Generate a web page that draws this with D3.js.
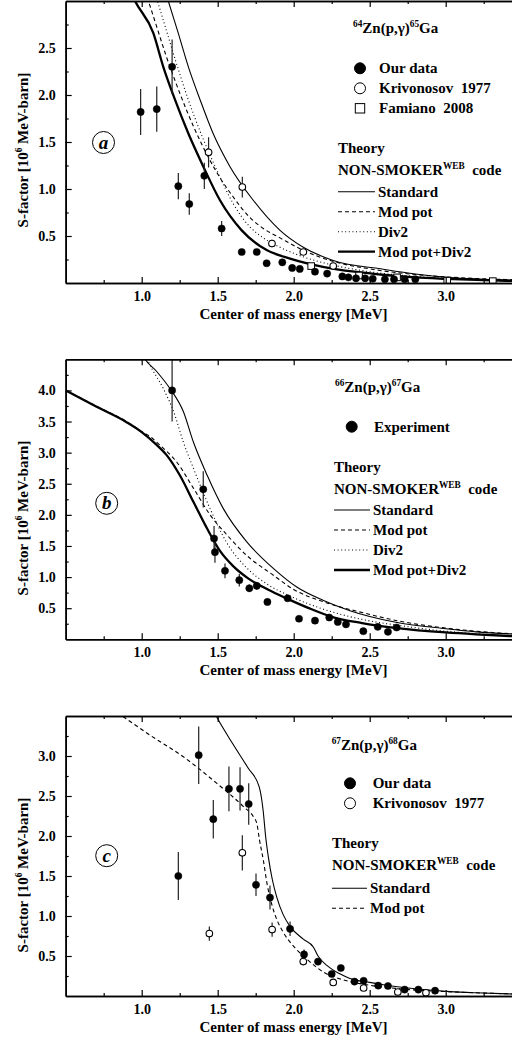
<!DOCTYPE html>
<html><head><meta charset="utf-8">
<script src="https://cdn.jsdelivr.net/npm/d3@7"></script>
<style>
body{margin:0;background:#fff}
svg{display:block}
text{font-family:"Liberation Serif","Times New Roman",serif;font-weight:bold;fill:#000}
</style>
</head><body>
<svg id="chart" width="512" height="1047"></svg>
<script>
// ---------------- DATA ----------------
const xTickValues = [1.0, 1.5, 2.0, 2.5, 3.0];
const xMinorTicks = [0.75, 1.25, 1.75, 2.25, 2.75, 3.25];
const yTicksA = [0.5, 1.0, 1.5, 2.0, 2.5];
const yTicksB = [0.5, 1.0, 1.5, 2.0, 2.5, 3.0, 3.5, 4.0];
const yTicksC = [0.5, 1.0, 1.5, 2.0, 2.5, 3.0];

// Panel a: 64Zn(p,g)65Ga  [E, S, err]
const aOurData = [
  [0.993,1.82,0.245],[1.099,1.85,0.24],[1.20,2.30,0.29],[1.241,1.03,0.14],
  [1.313,0.84,0.115],[1.412,1.14,0.14],[1.526,0.58,0.08],[1.658,0.33,0.03],
  [1.757,0.33,0.02],[1.822,0.21,0.02],[1.925,0.22,0.02],[1.99,0.16,0.02],
  [2.04,0.15,0.02],[2.14,0.12,0.02],[2.22,0.10,0.01],[2.32,0.07,0.01],
  [2.36,0.06,0],[2.41,0.05,0],[2.47,0.05,0],[2.52,0.045,0],[2.60,0.04,0],
  [2.66,0.04,0],[2.73,0.04,0],[2.80,0.04,0]
];
const aKrivonosov = [[1.44,1.39,0.16],[1.662,1.02,0.11],[1.857,0.42,0.04],[2.063,0.33,0.03],[2.26,0.18,0.02]];
const aFamiano = [[2.115,0.18],[2.43,0.08],[2.68,0.06],[3.01,0.025],[3.31,0.02]];
const aStandard = [[1.12,3.3],[1.175,3.0],[1.24,2.66],[1.307,2.30],[1.384,1.95],[1.47,1.59],[1.58,1.24],[1.734,0.88],[1.91,0.56],[2.063,0.38],[2.26,0.24],[2.59,0.146],[2.8,0.095],[3.03,0.058],[3.2,0.043],[3.45,0.03]];
const aModPot = [[0.99,3.25],[1.044,3.0],[1.10,2.72],[1.16,2.42],[1.22,2.15],[1.30,1.82],[1.40,1.46],[1.50,1.16],[1.60,0.92],[1.71,0.70],[1.80,0.58],[1.91,0.48],[2.06,0.35],[2.26,0.23],[2.5,0.15],[2.8,0.09],[3.0,0.065],[3.2,0.048],[3.45,0.035]];
const aDiv2 = [[1.06,3.25],[1.104,3.0],[1.16,2.70],[1.22,2.38],[1.30,1.98],[1.40,1.55],[1.50,1.18],[1.60,0.85],[1.71,0.60],[1.80,0.48],[1.91,0.38],[2.06,0.28],[2.26,0.19],[2.5,0.12],[2.8,0.07],[3.0,0.05],[3.2,0.036],[3.45,0.025]];
const aModPotDiv2 = [[0.90,3.2],[0.956,3.0],[1.076,2.66],[1.142,2.30],[1.219,1.95],[1.307,1.59],[1.405,1.24],[1.515,0.88],[1.658,0.56],[1.822,0.35],[1.976,0.26],[2.2,0.17],[2.4,0.12],[2.6,0.085],[2.8,0.06],[3.0,0.045],[3.2,0.033],[3.45,0.022]];

// Panel b: 66Zn(p,g)67Ga
const bExperiment = [
  [1.20,4.0,0.5],[1.405,2.41,0.29],[1.476,1.62,0.2],[1.482,1.40,0.17],[1.548,1.10,0.12],
  [1.642,0.95,0.1],[1.708,0.82,0.06],[1.757,0.86,0.06],[1.827,0.60,0],[1.96,0.66,0],
  [2.035,0.33,0],[2.14,0.30,0],[2.234,0.35,0],[2.29,0.28,0],[2.344,0.24,0],
  [2.458,0.13,0],[2.553,0.20,0],[2.62,0.12,0],[2.677,0.19,0]
];
const bStandard = [[0.98,4.7],[1.02,4.51],[1.10,4.3],[1.186,4.03],[1.274,3.66],[1.34,3.17],[1.43,2.64],[1.537,2.10],[1.69,1.57],[1.866,1.14],[2.02,0.84],[2.2,0.62],[2.37,0.46],[2.68,0.27],[3.0,0.17],[3.2,0.12],[3.45,0.085]];
const bModPot = [[0.5,4.0],[0.7,3.75],[0.9,3.5],[1.0,3.34],[1.06,3.25],[1.12,3.12],[1.23,2.85],[1.34,2.43],[1.45,2.0],[1.56,1.68],[1.69,1.35],[1.866,1.03],[2.0,0.80],[2.2,0.60],[2.45,0.43],[2.7,0.29],[3.0,0.18],[3.2,0.13],[3.45,0.085]];
const bDiv2 = [[1.0,4.72],[1.044,4.46],[1.142,4.03],[1.21,3.66],[1.274,3.17],[1.34,2.75],[1.45,2.10],[1.56,1.55],[1.69,1.15],[1.83,0.88],[1.98,0.69],[2.2,0.48],[2.45,0.32],[2.7,0.22],[3.0,0.13],[3.2,0.09],[3.45,0.055]];
const bModPotDiv2 = [[0.5,4.0],[0.7,3.74],[0.9,3.49],[1.0,3.33],[1.1,3.12],[1.164,2.96],[1.25,2.64],[1.34,2.21],[1.43,1.78],[1.515,1.42],[1.60,1.18],[1.70,0.98],[1.83,0.80],[1.96,0.65],[2.1,0.50],[2.24,0.37],[2.45,0.26],[2.68,0.18],[3.0,0.11],[3.2,0.08],[3.45,0.05]];

// Panel c: 67Zn(p,g)68Ga
const cOurData = [
  [1.241,1.50,0.30],[1.375,3.01,0.36],[1.471,2.21,0.24],[1.574,2.59,0.28],[1.647,2.59,0.27],
  [1.704,2.40,0.26],[1.752,1.39,0.14],[1.844,1.23,0.15],[1.976,0.84,0.09],[2.068,0.52,0.06],
  [2.16,0.43,0],[2.25,0.275,0],[2.31,0.35,0],[2.40,0.18,0],[2.46,0.19,0],[2.556,0.13,0],
  [2.62,0.125,0],[2.73,0.08,0],[2.82,0.08,0],[2.93,0.066,0]
];
const cKrivonosov = [[1.445,0.78,0.09],[1.662,1.79,0.22],[1.858,0.83,0.09],[2.063,0.43,0.03],[2.26,0.17,0.02],[2.46,0.10,0.02],[2.685,0.05,0.02],[2.87,0.04,0.02]];
const cStandard = [[1.40,3.85],[1.49,3.5],[1.60,3.15],[1.70,2.85],[1.772,2.62],[1.79,2.45],[1.80,2.3],[1.815,2.0],[1.833,1.74],[1.86,1.45],[1.888,1.24],[1.93,1.02],[1.976,0.87],[2.063,0.71],[2.13,0.61],[2.16,0.50],[2.22,0.38],[2.30,0.28],[2.37,0.22],[2.5,0.17],[2.59,0.14],[2.8,0.09],[3.03,0.055],[3.2,0.04],[3.45,0.025]];
const cModPot = [[0.80,3.59],[0.879,3.49],[1.055,3.26],[1.274,2.99],[1.493,2.66],[1.668,2.37],[1.735,2.24],[1.757,2.16],[1.775,1.95],[1.80,1.7],[1.825,1.40],[1.855,1.15],[1.89,0.95],[1.93,0.80],[2.0,0.62],[2.063,0.50],[2.15,0.36],[2.195,0.30],[2.33,0.20],[2.48,0.14],[2.7,0.09],[3.0,0.055],[3.2,0.04],[3.45,0.025]];

// ---------------- DRAWING ----------------
const svg = d3.select("#chart");
const X_LEFT = 65.7, X_RIGHT = 514.1;
const styles = {
  standard: {w: 1.1, dash: null},
  modpot: {w: 1.1, dash: "4,3"},
  div2: {w: 1.1, dash: "1,2.6"},
  modpotdiv2: {w: 2.3, dash: null}
};

function supText(sel, parts, size) {
  // parts: [text, isSup]
  let prevSup = false;
  parts.forEach(([t, sup]) => {
    const ts = sel.append("tspan").text(t);
    if (sup && !prevSup) ts.attr("dy", -6).attr("font-size", size * 0.62);
    else if (sup) ts.attr("font-size", size * 0.62);
    else if (prevSup) ts.attr("dy", 6);
    prevSup = sup;
  });
}

function drawPanel(cfg, idx) {
  const g = svg.append("g");
  const x = d3.scaleLinear().domain([0.5, 3.45]).range([X_LEFT, X_RIGHT]);
  const y = d3.scaleLinear().domain([0, cfg.yMax]).range([cfg.bottom, cfg.top]);

  const clipId = "clip" + idx;
  svg.append("clipPath").attr("id", clipId).append("rect")
    .attr("x", X_LEFT).attr("y", cfg.top).attr("width", X_RIGHT - X_LEFT).attr("height", cfg.bottom - cfg.top);
  const plot = g.append("g").attr("clip-path", `url(#${clipId})`);

  const line = d3.line().x(d => x(d[0])).y(d => y(d[1])).curve(d3.curveMonotoneX);
  cfg.curves.forEach(c => {
    const st = styles[c.style];
    plot.append("path").datum(c.data).attr("d", line)
      .attr("fill", "none").attr("stroke", "#000").attr("stroke-width", st.w)
      .attr("stroke-dasharray", st.dash);
  });

  cfg.points.forEach(p => {
    const eb = p.data.filter(d => d[2] > 0);
    plot.selectAll(null).data(eb).enter().append("line")
      .attr("x1", d => x(d[0])).attr("x2", d => x(d[0]))
      .attr("y1", d => y(d[1] - d[2])).attr("y2", d => y(d[1] + d[2]))
      .attr("stroke", "#222").attr("stroke-width", 1.2);
    if (p.kind === "square") {
      plot.selectAll(null).data(p.data).enter().append("rect")
        .attr("x", d => x(d[0]) - 3.3).attr("y", d => y(d[1]) - 3.3)
        .attr("width", 6.6).attr("height", 6.6)
        .attr("fill", "#fff").attr("stroke", "#000").attr("stroke-width", 1);
    } else {
      plot.selectAll(null).data(p.data).enter().append("circle")
        .attr("cx", d => x(d[0])).attr("cy", d => y(d[1]))
        .attr("r", p.kind === "filled" ? 3.6 : 3.3)
        .attr("fill", p.kind === "filled" ? "#000" : "#fff")
        .attr("stroke", "#000").attr("stroke-width", p.kind === "filled" ? 0.5 : 1.1);
    }
  });

  // axes
  const yMinor = d3.range(0.25, cfg.yMax, 0.25).filter(v => Math.abs(v * 2 - Math.round(v * 2)) > 1e-6);
  const axB = g.append("g").attr("transform", `translate(0,${cfg.bottom})`)
    .call(d3.axisBottom(x).tickValues(xTickValues).tickSize(-6).tickSizeOuter(0).tickPadding(8).tickFormat(d3.format(".1f")));
  g.append("g").attr("transform", `translate(0,${cfg.bottom})`)
    .call(d3.axisBottom(x).tickValues(xMinorTicks).tickSize(-3).tickSizeOuter(0).tickFormat(""));
  g.append("g").attr("transform", `translate(0,${cfg.top})`)
    .call(d3.axisTop(x).tickValues(xTickValues).tickSize(-6).tickSizeOuter(0).tickFormat(""));
  g.append("g").attr("transform", `translate(0,${cfg.top})`)
    .call(d3.axisTop(x).tickValues(xMinorTicks).tickSize(-3).tickSizeOuter(0).tickFormat(""));
  g.append("g").attr("transform", `translate(${X_LEFT},0)`)
    .call(d3.axisLeft(y).tickValues(cfg.yTicks).tickSize(-6).tickSizeOuter(0).tickPadding(10).tickFormat(d3.format(".1f")));
  g.append("g").attr("transform", `translate(${X_LEFT},0)`)
    .call(d3.axisLeft(y).tickValues(yMinor).tickSize(-3).tickSizeOuter(0).tickFormat(""));
  g.selectAll(".domain").attr("stroke", "#000").attr("stroke-width", 1.6);
  g.selectAll(".tick line").attr("stroke", "#000").attr("stroke-width", 1.2);
  g.selectAll(".tick text").attr("font-size", 14).attr("font-family", null).attr("fill", "#000");

  // axis titles
  g.append("text").attr("x", 293.5).attr("y", cfg.bottom + 36).attr("text-anchor", "middle")
    .attr("font-size", 15).text("Center of mass energy [MeV]");
  const yl = g.append("text").attr("text-anchor", "middle").attr("font-size", 15)
    .attr("transform", `translate(28,${cfg.yLabelY}) rotate(-90)`);
  supText(yl, [["S-factor [10", false], ["6", true], [" MeV-barn]", false]], 15);

  // panel letter
  g.append("circle").attr("cx", cfg.letter[1]).attr("cy", cfg.letter[2]).attr("r", 11)
    .attr("fill", "none").attr("stroke", "#000").attr("stroke-width", 1);
  g.append("text").attr("x", cfg.letter[1]).attr("y", cfg.letter[2] + 6).attr("text-anchor", "middle")
    .attr("font-size", 19).attr("font-style", "italic").text(cfg.letter[0]);

  // legend
  const L = cfg.legend;
  const title = g.append("text").attr("x", L.titleX).attr("y", L.titleY).attr("font-size", 15);
  supText(title, cfg.titleParts, 15);
  L.markers.forEach((m, i) => {
    const yy = L.markY + i * 20;
    if (m[0] === "square") {
      g.append("rect").attr("x", L.markX - 4.7).attr("y", yy - 4.7).attr("width", 9.4).attr("height", 9.4)
        .attr("fill", "#fff").attr("stroke", "#000").attr("stroke-width", 1);
    } else {
      g.append("circle").attr("cx", L.markX).attr("cy", yy).attr("r", 5.5)
        .attr("fill", m[0] === "filled" ? "#000" : "#fff").attr("stroke", "#000").attr("stroke-width", 1);
    }
    g.append("text").attr("x", L.markTextX).attr("y", yy + 5).attr("font-size", 15)
      .style("white-space", "pre").text(m[1]);
  });
  g.append("text").attr("x", L.thX).attr("y", L.thY).attr("font-size", 15).text("Theory");
  const ns = g.append("text").attr("x", L.thX).attr("y", L.thY + 22).attr("font-size", 15).style("white-space", "pre");
  supText(ns, [["NON-SMOKER", false], ["WEB", true], ["  code", false]], 15);
  L.lines.forEach((ln, i) => {
    const yy = L.lineY + i * 20;
    const st = styles[ln[0]];
    g.append("line").attr("x1", L.thX).attr("x2", L.thX + L.lineLen).attr("y1", yy).attr("y2", yy)
      .attr("stroke", "#000").attr("stroke-width", st.w).attr("stroke-dasharray", st.dash);
    g.append("text").attr("x", L.thX + L.lineLen + 3).attr("y", yy + 5).attr("font-size", 15).text(ln[1]);
  });
}

const panels = [
  {
    top: 1, bottom: 283, yMax: 3.0, yTicks: yTicksA, yLabelY: 150, letter: ["a", 103.5, 142.5],
    titleParts: [["64", true], ["Zn(p,γ)", false], ["65", true], ["Ga", false]],
    curves: [{data: aStandard, style: "standard"}, {data: aModPot, style: "modpot"},
             {data: aDiv2, style: "div2"}, {data: aModPotDiv2, style: "modpotdiv2"}],
    points: [{data: aFamiano, kind: "square"}, {data: aKrivonosov, kind: "open"}, {data: aOurData, kind: "filled"}],
    legend: {titleX: 353, titleY: 33, markX: 360, markY: 68.3, markTextX: 379,
      markers: [["filled", "Our data"], ["open", "Krivonosov  1977"], ["square", "Famiano  2008"]],
      thX: 338, thY: 153, lineY: 191.7, lineLen: 37,
      lines: [["standard", "Standard"], ["modpot", "Mod pot"], ["div2", "Div2"], ["modpotdiv2", "Mod pot+Div2"]]}
  },
  {
    top: 359.3, bottom: 639.3, yMax: 4.5, yTicks: yTicksB, yLabelY: 518, letter: ["b", 106.7, 503.3],
    titleParts: [["66", true], ["Zn(p,γ)", false], ["67", true], ["Ga", false]],
    curves: [{data: bStandard, style: "standard"}, {data: bModPot, style: "modpot"},
             {data: bDiv2, style: "div2"}, {data: bModPotDiv2, style: "modpotdiv2"}],
    points: [{data: bExperiment, kind: "filled"}],
    legend: {titleX: 335, titleY: 392, markX: 351.7, markY: 426.7, markTextX: 374,
      markers: [["filled", "Experiment"]],
      thX: 334, thY: 472, lineY: 510, lineLen: 36,
      lines: [["standard", "Standard"], ["modpot", "Mod pot"], ["div2", "Div2"], ["modpotdiv2", "Mod pot+Div2"]]}
  },
  {
    top: 716, bottom: 996, yMax: 3.5, yTicks: yTicksC, yLabelY: 875, letter: ["c", 106.7, 855.7],
    titleParts: [["67", true], ["Zn(p,γ)", false], ["68", true], ["Ga", false]],
    curves: [{data: cStandard, style: "standard"}, {data: cModPot, style: "modpot"}],
    points: [{data: cKrivonosov, kind: "open"}, {data: cOurData, kind: "filled"}],
    legend: {titleX: 331.7, titleY: 750, markX: 350, markY: 783.3, markTextX: 372.7,
      markers: [["filled", "Our data"], ["open", "Krivonosov  1977"]],
      thX: 332, thY: 848.3, lineY: 888.3, lineLen: 35,
      lines: [["standard", "Standard"], ["modpot", "Mod pot"]]}
  }
];
panels.forEach((p, i) => drawPanel(p, i));
</script>
</body></html>
